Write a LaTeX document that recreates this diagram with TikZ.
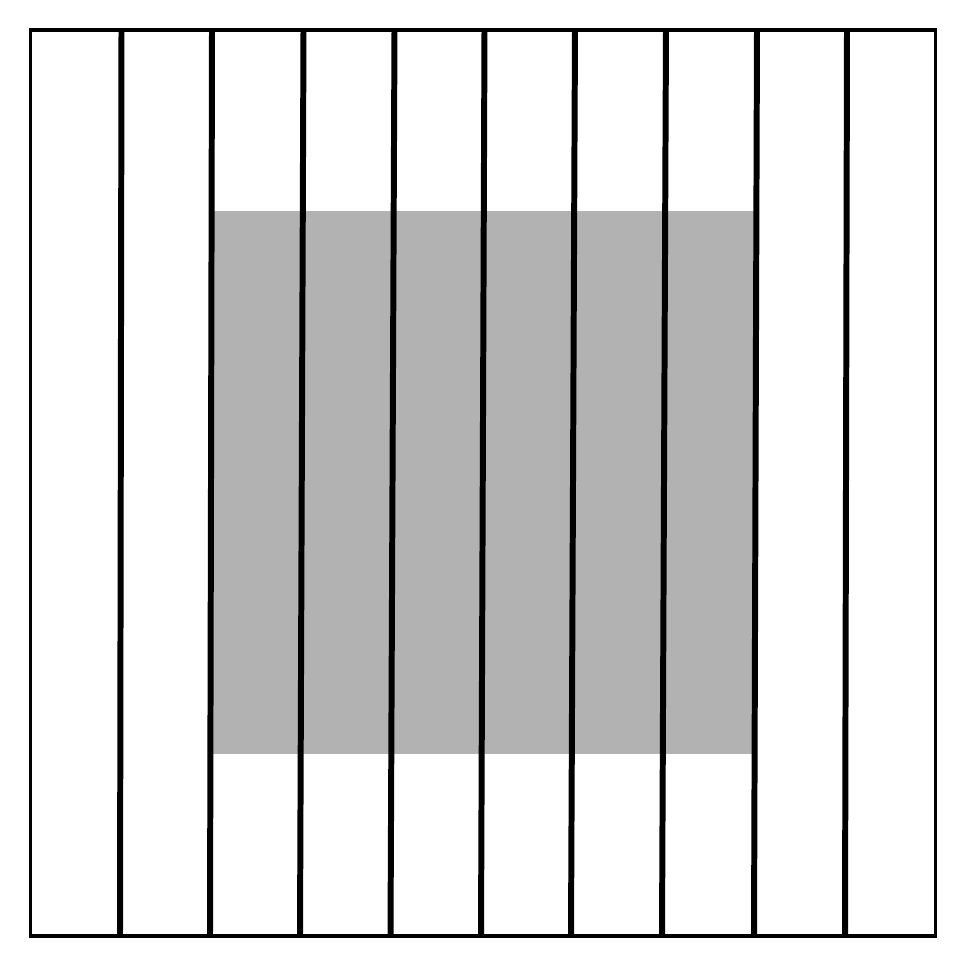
\documentclass[tikz,border=0pt]{standalone}
\begin{document}
\begin{tikzpicture}[x=0.01cm,y=-0.01cm,line width=1.7pt,
	frame/.style={draw=black,line width=1pt},
	strip/.style={draw=black,line width=1.7pt},
	block/.style={fill=black!30}]
	\useasboundingbox (0,0) rectangle (965,966);
	% gray block
	\fill[block] (211,211) rectangle (754,754);
	% strips
	\foreach \t/\b in {121.5/120,212/210,303.5/300,394.5/390.5,484.5/481,575/571,666/662,757/754,847/845}{
		\draw[strip] (\t,30) -- (\b,936);
	}
	\draw[frame] (30.5,30) rectangle (935.5,936);
\end{tikzpicture}
\end{document}
